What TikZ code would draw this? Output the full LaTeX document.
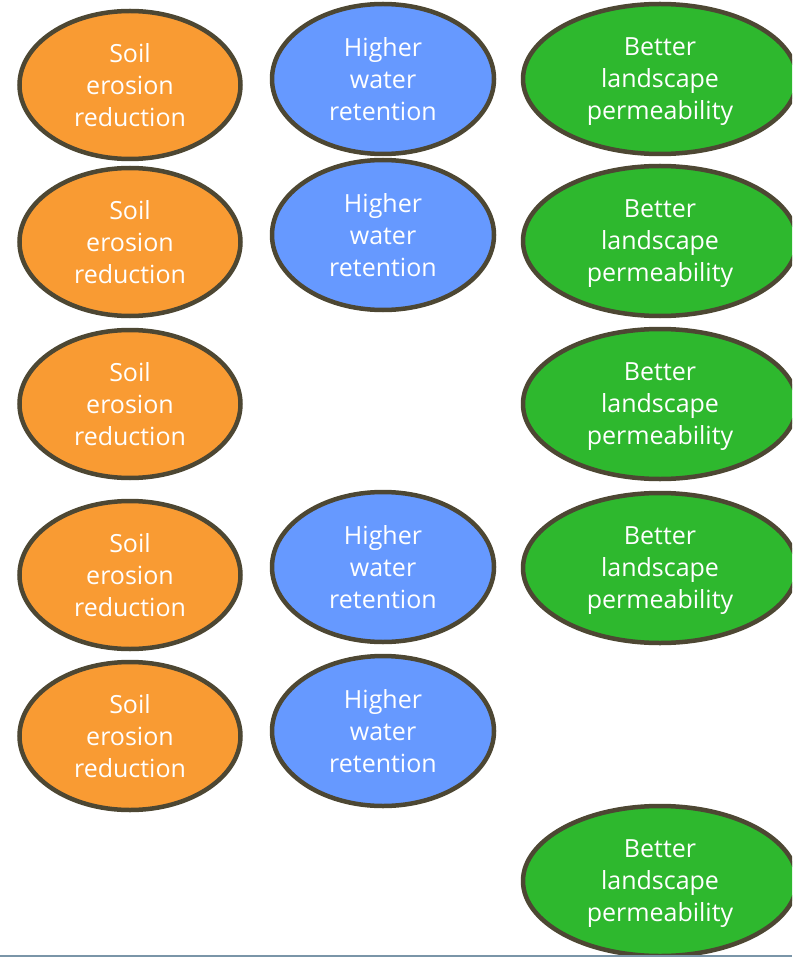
\documentclass[tikz,border=0pt]{standalone}
\usepackage{amsmath}
\usepackage{fontspec}
\setmainfont{Open Sans}
\usetikzlibrary{shapes.geometric}

\definecolor{soilOrange}{HTML}{F99B33}
\definecolor{waterBlue}{HTML}{6699FF}
\definecolor{landGreen}{HTML}{2EB82E}
\definecolor{rimBrown}{HTML}{4D4733}
\definecolor{baseGray}{HTML}{7A95A8}

\newcommand{\soilText}{Soil\\erosion\\reduction}
\newcommand{\waterText}{Higher\\water\\retention}
\newcommand{\landText}{Better\\landscape\\\smash[b]{permeability}}

\tikzset{
  bubble/.style={ellipse, draw=rimBrown, line width=4.5pt, inner sep=0pt,
    text=white, align=center, font=\fontsize{25}{32}\selectfont},
  soil/.style={bubble, fill=soilOrange, minimum width=221pt, minimum height=148pt},
  water/.style={bubble, fill=waterBlue, minimum width=222pt, minimum height=150pt},
  land/.style={bubble, fill=landGreen, minimum width=274pt, minimum height=150pt}
}

\begin{document}
\begin{tikzpicture}[x=1pt, y=-1pt]
  \useasboundingbox (0,0) rectangle (792,957);
  \clip (0,0) rectangle (792,957);

  % left column
  \node[soil] (S1) at (130,85) {\soilText};
  \node[soil] (S2) at (130,242) {\soilText};
  \node[soil] (S3) at (130,404) {\soilText};
  \node[soil] (S4) at (130,575) {\soilText};
  \node[soil] (S5) at (130,736) {\soilText};

  % middle column
  \node[water] (W1) at (383,79) {\waterText};
  \node[water] (W2) at (383,235) {\waterText};
  \node[water] (W4) at (383,567) {\waterText};
  \node[water] (W5) at (383,731) {\waterText};

  % right column
  \node[land] (L1) at (660,79) {\landText};
  \node[land] (L2) at (660,241) {\landText};
  \node[land] (L3) at (660,404) {\landText};
  \node[land] (L4) at (660,568) {\landText};
  \node[land] (L6) at (660,881) {\landText};

  \draw[baseGray, line width=1.5pt] (0,956.2) -- (792,956.2);
\end{tikzpicture}
\end{document}
